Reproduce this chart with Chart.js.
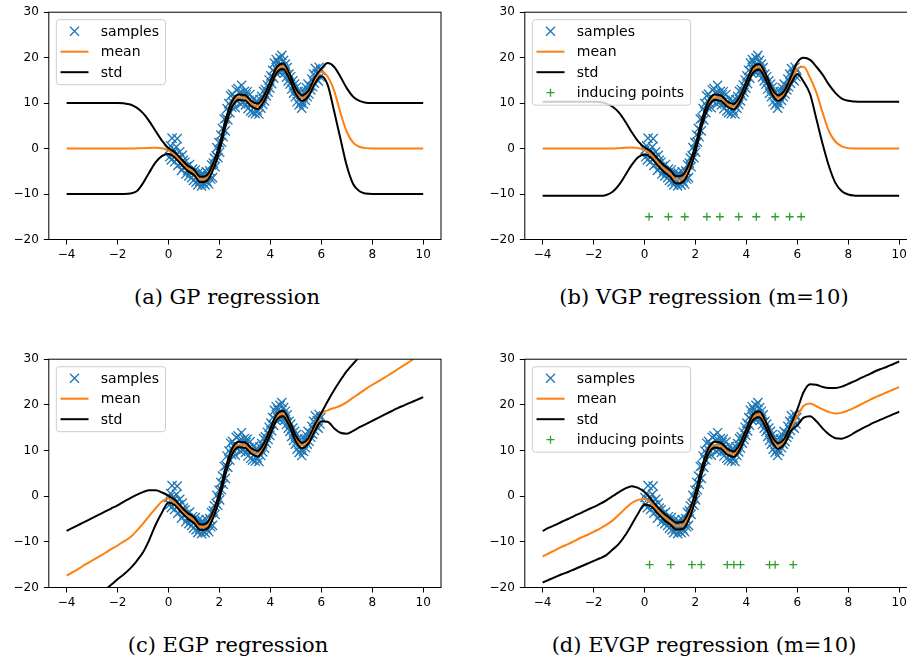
<!DOCTYPE html>
<html>
<head>
<meta charset="utf-8">
<script src="https://cdn.jsdelivr.net/npm/chart.js@4/dist/chart.umd.min.js"></script>
<style>
  body { margin: 0; width: 907px; height: 660px; overflow: hidden; background: #fff; position: relative; }
  canvas { position: absolute; }
  .cap { position: absolute; font-family: 'DejaVu Serif', serif; font-size: 21px; line-height: 21px;
         white-space: nowrap; transform: translateX(-50%); color: #000; }
</style>
</head>
<body>
<canvas id="gp"   width="460" height="260" style="left:0;top:0"></canvas>
<canvas id="vgp"  width="460" height="260" style="left:476px;top:0"></canvas>
<canvas id="egp"  width="460" height="261" style="left:0;top:347px"></canvas>
<canvas id="evgp" width="460" height="261" style="left:476px;top:347px"></canvas>
<div class="cap" style="left:227px;top:287px">(a) GP regression</div>
<div class="cap" style="left:704px;top:287px">(b) VGP regression (m=10)</div>
<div class="cap" style="left:228px;top:635px">(c) EGP regression</div>
<div class="cap" style="left:704px;top:635px">(d) EVGP regression (m=10)</div>
<script>
// ── Data ──────────────────────────────────────
const X_TICKS = [-4, -2, 0, 2, 4, 6, 8, 10];
const Y_TICKS = [-20, -10, 0, 10, 20, 30];

// prediction grid
const X_GRID = [-4, -3.75, -3.5, -3.25, -3, -2.75, -2.5, -2.25, -2, -1.75,
  -1.5, -1.25, -1, -0.75, -0.5, -0.25, 0, 0.25, 0.5, 0.75,
  1, 1.25, 1.5, 1.75, 2, 2.25, 2.5, 2.75, 3, 3.25,
  3.5, 3.75, 4, 4.25, 4.5, 4.75, 5, 5.25, 5.5, 5.75,
  6, 6.25, 6.5, 6.75, 7, 7.25, 7.5, 7.75, 8, 8.25,
  8.5, 8.75, 9, 9.25, 9.5, 9.75, 10];

// training samples
const SAMPLE_X = [
  0.02, 0.05, 0.08, 0.11, 0.14, 0.17, 0.20, 0.24, 0.27, 0.31,
  0.34, 0.37, 0.40, 0.44, 0.47, 0.51, 0.54, 0.58, 0.61, 0.65,
  0.68, 0.72, 0.76, 0.80, 0.83, 0.87, 0.91, 0.94, 0.98, 1.01,
  1.05, 1.08, 1.12, 1.15, 1.19, 1.22, 1.26, 1.30, 1.33, 1.37,
  1.40, 1.44, 1.48, 1.51, 1.55, 1.58, 1.62, 1.66, 1.69, 1.73,
  1.76, 1.80, 1.83, 1.87, 1.90, 1.94, 1.98, 2.01, 2.05, 2.08,
  2.12, 2.15, 2.19, 2.23, 2.26, 2.30, 2.33, 2.37, 2.41, 2.44,
  2.48, 2.51, 2.55, 2.59, 2.62, 2.66, 2.69, 2.73, 2.77, 2.80,
  2.84, 2.87, 2.91, 2.95, 2.98, 3.02, 3.05, 3.09, 3.12, 3.16,
  3.20, 3.23, 3.27, 3.30, 3.34, 3.38, 3.41, 3.45, 3.48, 3.52,
  3.55, 3.59, 3.63, 3.66, 3.70, 3.73, 3.77, 3.80, 3.84, 3.88,
  3.91, 3.95, 3.98, 4.02, 4.05, 4.09, 4.13, 4.16, 4.20, 4.23,
  4.27, 4.30, 4.34, 4.38, 4.41, 4.45, 4.48, 4.52, 4.55, 4.59,
  4.63, 4.66, 4.70, 4.73, 4.77, 4.80, 4.84, 4.88, 4.91, 4.95,
  4.98, 5.02, 5.05, 5.09, 5.13, 5.16, 5.20, 5.23, 5.27, 5.30,
  5.34, 5.38, 5.41, 5.45, 5.48, 5.52, 5.55, 5.59, 5.63, 5.66,
  5.70, 5.73, 5.77, 5.80, 5.84, 5.88, 5.91, 5.95, 5.98];
const SAMPLE_Y = [
  -0.3, -1.8, 0.6, -2.5, 2.3, -1.0, -0.2, -2.9, -1.6, 0.4,
  2.2, -3.7, -1.9, -0.7, -3.2, -4.8, -1.5, -2.6, -4.1, -3.0,
  -5.6, -3.9, -4.8, -6.0, -3.5, -5.2, -6.4, -4.5, -7.0, -5.6,
  -4.7, -7.4, -6.1, -8.0, -5.2, -7.2, -6.0, -8.2, -5.4, -7.6,
  -6.6, -8.0, -5.1, -7.2, -6.0, -7.8, -4.9, -6.7, -3.6, -6.4,
  -3.2, -2.1, -4.0, -1.6, 0.2, -2.0, 1.3, -0.8, 3.0, 1.4,
  4.4, 2.6, 6.5, 3.9, 6.7, 8.8, 6.3, 9.9, 7.9, 11.6,
  9.1, 12.0, 10.0, 11.3, 9.0, 12.9, 10.4, 13.2, 10.8, 12.2,
  9.8, 13.9, 11.7, 10.3, 12.6, 9.6, 11.8, 12.5, 8.8, 10.6,
  11.9, 8.3, 10.0, 7.9, 10.9, 9.2, 7.7, 10.4, 8.4, 9.9,
  7.6, 10.8, 8.9, 11.5, 9.7, 12.6, 10.5, 13.0, 11.6, 14.0,
  12.4, 15.1, 13.3, 16.0, 14.3, 17.2, 15.5, 18.8, 16.7, 19.6,
  17.4, 18.9, 16.8, 19.9, 18.0, 20.5, 17.2, 19.4, 16.6, 18.6,
  15.7, 17.8, 14.9, 16.4, 14.2, 15.8, 13.1, 14.9, 12.2, 14.2,
  11.4, 13.5, 10.3, 12.6, 9.6, 12.3, 10.1, 8.9, 11.7, 9.8,
  12.5, 10.6, 13.4, 11.4, 14.2, 12.0, 13.8, 12.9, 15.3, 13.6,
  16.4, 14.4, 17.6, 15.3, 16.5, 14.9, 17.9, 15.8, 17.2];

// (a) GP
const GP_MEAN = [0, 0, 0, 0, 0, 0, 0, 0, 0, 0,
  0, 0.05, 0.1, 0.15, 0.2, 0.05, -0.4, -1.4, -2.9, -4.3,
  -5.2, -6.8, -6.5, -4.0, 0.2, 5.8, 9.8, 11.3, 11.2, 9.9,
  9.3, 11.0, 14.2, 17.3, 18.1, 15.9, 12.6, 11.1, 12.2, 15.0,
  16.9, 15.8, 12.8, 7.9, 3.7, 1.3, 0.4, 0.1, 0, 0,
  0, 0, 0, 0, 0, 0, 0];
const GP_UPPER = [10, 10, 10, 10, 10, 10, 10, 10, 10, 9.95,
  9.7, 9.0, 7.8, 6.0, 3.8, 1.7, 0.1, -0.8, -2.3, -3.7,
  -4.6, -6.2, -5.9, -3.3, 0.9, 6.5, 10.4, 11.9, 11.8, 10.5,
  9.9, 11.6, 14.8, 17.9, 18.7, 16.5, 13.2, 11.7, 12.8, 15.7,
  17.6, 18.8, 18.0, 15.8, 13.3, 11.4, 10.5, 10.1, 10, 10,
  10, 10, 10, 10, 10, 10, 10];
const GP_LOWER = [-10, -10, -10, -10, -10, -10, -10, -10, -10, -10,
  -9.9, -9.4, -7.6, -5.2, -3.0, -1.6, -1.2, -2.0, -3.5, -4.9,
  -5.8, -7.4, -7.1, -4.7, -0.5, 5.1, 9.2, 10.7, 10.6, 9.3,
  8.7, 10.4, 13.6, 16.7, 17.5, 15.3, 12.0, 10.5, 11.6, 14.3,
  15.9, 14.0, 8.3, 2.2, -3.8, -7.8, -9.4, -9.9, -10, -10,
  -10, -10, -10, -10, -10, -10, -10];

// (b) VGP, m = 10
const VGP_MEAN = [0, 0, 0, 0, 0, 0, 0, 0, 0, 0,
  0, 0, 0.1, 0.2, 0.25, 0.1, -0.3, -1.3, -2.9, -4.4,
  -5.5, -6.9, -6.6, -4.3, 0.0, 5.6, 9.7, 11.3, 11.1, 9.8,
  9.2, 10.9, 14.1, 17.2, 18.0, 15.9, 12.6, 11.1, 12.2, 15.0,
  17.6, 18.0, 15.6, 12.3, 7.8, 3.7, 1.5, 0.5, 0.1, 0,
  0, 0, 0, 0, 0, 0, 0];
const VGP_UPPER = [10.3, 10.3, 10.3, 10.3, 10.3, 10.3, 10.3, 10.3, 10.3, 10.25,
  9.9, 9.2, 7.9, 5.9, 3.6, 1.6, 0.3, -0.6, -2.1, -3.6,
  -4.7, -6.1, -5.8, -3.4, 0.7, 6.3, 10.3, 11.9, 11.7, 10.4,
  9.8, 11.5, 14.7, 17.8, 18.6, 16.5, 13.2, 11.7, 12.8, 15.8,
  19.0, 20.0, 19.5, 18.0, 16.2, 14.0, 12.2, 11.0, 10.5, 10.35,
  10.3, 10.3, 10.3, 10.3, 10.3, 10.3, 10.3];
const VGP_LOWER = [-10.4, -10.4, -10.4, -10.4, -10.4, -10.4, -10.4, -10.4, -10.4, -10.4,
  -10.2, -9.5, -8.0, -5.8, -3.6, -1.9, -1.3, -2.0, -3.6, -5.1,
  -6.2, -7.7, -7.4, -5.0, -0.7, 4.9, 9.1, 10.7, 10.5, 9.2,
  8.6, 10.3, 13.5, 16.6, 17.4, 15.3, 12.0, 10.5, 11.6, 14.3,
  16.4, 14.7, 12.0, 6.5, 0.9, -4.0, -7.6, -9.4, -10.1, -10.35,
  -10.4, -10.4, -10.4, -10.4, -10.4, -10.4, -10.4];
const VGP_INDUCING_X = [0.18, 0.94, 1.58, 2.45, 2.96, 3.70, 4.39, 5.13, 5.70, 6.15];

// (c) EGP
const EGP_MEAN = [-17.4, -16.6, -15.8, -14.9, -14.1, -13.3, -12.5, -11.6, -10.8, -9.9,
  -9.0, -7.6, -6.0, -4.3, -2.6, -1.1, -0.5, -1.4, -2.9, -4.3,
  -5.3, -6.8, -6.5, -4.1, 0.1, 5.7, 9.8, 11.3, 11.2, 9.9,
  9.3, 11.0, 14.2, 17.3, 18.1, 15.9, 12.6, 11.1, 12.2, 15.0,
  18.0, 18.8, 19.3, 19.8, 20.6, 21.6, 22.5, 23.5, 24.4, 25.2,
  26.0, 26.9, 27.8, 28.7, 29.6, 30.6, 31.6];
const EGP_UPPER = [-7.6, -6.9, -6.2, -5.5, -4.8, -4.1, -3.4, -2.7, -2.0, -1.2,
  -0.4, 0.3, 0.9, 1.3, 1.3, 0.8, 0.1, -0.8, -2.3, -3.7,
  -4.6, -6.2, -5.9, -3.4, 0.8, 6.4, 10.4, 11.9, 11.8, 10.5,
  9.9, 11.6, 14.8, 17.9, 18.7, 16.5, 13.2, 11.7, 12.8, 15.7,
  18.2, 20.8, 23.2, 25.4, 27.4, 29.0, 30.5, 32.0, 33.3, 34.6,
  35.9, 37.2, 38.5, 39.8, 41.1, 42.4, 43.7];
const EGP_LOWER = [-27.8, -26.6, -25.4, -24.2, -23.0, -21.8, -20.6, -19.4, -18.2, -17.1,
  -15.8, -14.2, -12.3, -9.5, -6.2, -3.5, -1.4, -2.0, -3.5, -4.9,
  -5.9, -7.4, -7.2, -4.8, -0.6, 5.0, 9.2, 10.7, 10.6, 9.3,
  8.7, 10.4, 13.6, 16.7, 17.5, 15.3, 12.0, 10.5, 11.6, 14.3,
  16.4, 16.3, 14.9, 13.9, 13.7, 14.3, 15.1, 15.8, 16.5, 17.2,
  17.9, 18.6, 19.3, 19.9, 20.5, 21.1, 21.7];

// (d) EVGP, m = 10
const EVGP_MEAN = [-13.2, -12.5, -11.8, -11.1, -10.5, -9.8, -9.1, -8.5, -7.8, -7.1,
  -6.3, -5.3, -4.0, -2.7, -1.5, -0.8, -0.6, -1.5, -3.0, -4.4,
  -5.5, -6.5, -6.4, -4.2, 0.0, 5.6, 9.7, 11.2, 11.0, 9.7,
  9.2, 10.9, 14.1, 17.2, 17.9, 15.8, 12.6, 11.0, 12.1, 15.0,
  17.5, 19.8, 20.3, 19.7, 19.0, 18.4, 18.1, 18.3, 18.8, 19.4,
  20.1, 20.8, 21.5, 22.1, 22.7, 23.3, 23.9];
const EVGP_UPPER = [-7.6, -6.9, -6.3, -5.6, -5.0, -4.3, -3.7, -3.0, -2.4, -1.7,
  -0.9, 0.0, 0.9, 1.7, 2.2, 1.8, 0.9, -0.6, -2.3, -3.7,
  -4.8, -5.8, -5.6, -3.3, 0.8, 6.3, 10.3, 11.9, 11.7, 10.4,
  9.8, 11.5, 14.7, 17.8, 18.6, 16.5, 13.2, 11.6, 12.7, 15.7,
  19.0, 22.8, 24.5, 24.4, 23.9, 23.7, 23.7, 24.0, 24.6, 25.2,
  25.9, 26.5, 27.2, 27.8, 28.3, 28.9, 29.5];
const EVGP_LOWER = [-18.9, -18.3, -17.7, -17.1, -16.6, -16.0, -15.4, -14.8, -14.2, -13.6,
  -12.9, -11.7, -10.4, -8.5, -6.2, -3.8, -1.8, -2.2, -3.7, -5.1,
  -6.2, -7.3, -7.2, -5.0, -0.8, 4.9, 9.1, 10.6, 10.4, 9.1,
  8.6, 10.3, 13.5, 16.6, 17.3, 15.2, 12.0, 10.4, 11.5, 14.3,
  15.5, 17.2, 17.5, 16.4, 14.8, 13.5, 12.7, 12.6, 13.1, 13.9,
  14.7, 15.4, 16.1, 16.7, 17.3, 17.9, 18.5];
const EVGP_INDUCING_X = [0.20, 1.03, 1.86, 2.23, 3.25, 3.51, 3.77, 4.91, 5.13, 5.84];

const INDUCING_Y = -15;

const BLUE = '#1f77b4', ORANGE = '#ff7f0e', GREEN = '#2ca02c', BLACK = '#000000';

// ── Plugins ───────────────────────────────────
// full box of spines, drawn above the curves
const frame = {
  id: 'frame',
  afterDatasetsDraw(chart) {
    const { ctx, chartArea: a } = chart;
    ctx.save();
    ctx.strokeStyle = BLACK;
    ctx.lineWidth = 1;
    ctx.strokeRect(a.left, a.top, a.right - a.left, a.bottom - a.top);
    ctx.restore();
  }
};

// boxed legend in the upper-left corner
const legendBox = {
  id: 'legendBox',
  afterDraw(chart, args, opts) {
    const { ctx, chartArea: a } = chart;
    const items = opts.items;
    ctx.save();
    ctx.font = '14px "DejaVu Sans"';
    const textW = Math.max(...items.map(it => ctx.measureText(it.label).width));
    const left = a.left + 7, top = a.top + 7;
    const rowH = 20.5;
    const w = 45 + textW + 6, h = 24 + (items.length - 1) * rowH;
    ctx.beginPath();
    ctx.roundRect(left + 0.5, top + 0.5, w, h, 3);
    ctx.fillStyle = 'rgba(255,255,255,0.8)';
    ctx.fill();
    ctx.strokeStyle = '#cccccc';
    ctx.lineWidth = 1;
    ctx.stroke();

    items.forEach((it, i) => {
      const cy = top + 12 + i * rowH;
      const hx = left + 4.7, cx = hx + 14;
      ctx.strokeStyle = it.color;
      ctx.beginPath();
      if (it.kind === 'line') {
        ctx.lineWidth = 2;
        ctx.moveTo(hx, cy); ctx.lineTo(hx + 28, cy);
      } else if (it.kind === 'x') {
        ctx.lineWidth = 1.3;
        ctx.moveTo(cx - 4.5, cy - 4.5); ctx.lineTo(cx + 4.5, cy + 4.5);
        ctx.moveTo(cx - 4.5, cy + 4.5); ctx.lineTo(cx + 4.5, cy - 4.5);
      } else {
        ctx.lineWidth = 1.3;
        ctx.moveTo(cx - 4, cy); ctx.lineTo(cx + 4, cy);
        ctx.moveTo(cx, cy - 4); ctx.lineTo(cx, cy + 4);
      }
      ctx.stroke();
      ctx.fillStyle = BLACK;
      ctx.textBaseline = 'middle';
      ctx.fillText(it.label, left + 45, cy + 1);
    });
    ctx.restore();
  }
};

// ── Builders ──────────────────────────────────
const fmt = v => (v < 0 ? '\u2212' + Math.abs(v) : String(v));

function curve(ys, color, label, order) {
  return {
    label,
    data: X_GRID.map((x, i) => ({ x, y: ys[i] })),
    showLine: true,
    borderColor: color,
    borderWidth: 2,
    pointRadius: 0,
    cubicInterpolationMode: 'monotone',
    order
  };
}

function axis(min, max, ticks, afterFit, padding) {
  return {
    type: 'linear',
    min, max,
    afterBuildTicks: s => { s.ticks = ticks.map(v => ({ value: v })); },
    afterFit,
    border: { display: false },
    grid: { drawOnChartArea: false, drawTicks: true, tickLength: 5, color: BLACK, lineWidth: 1 },
    ticks: {
      autoSkip: false, maxRotation: 0, padding,
      color: BLACK, font: { family: 'DejaVu Sans', size: 12 },
      callback: fmt
    }
  };
}

function makePanel(id, mean, upper, lower, inducingX, padTop) {
  const datasets = [
    {
      label: 'samples',
      data: SAMPLE_X.map((x, i) => ({ x, y: SAMPLE_Y[i] })),
      pointStyle: 'crossRot',
      pointRadius: 6.5,
      pointBorderWidth: 1.3,
      pointBorderColor: BLUE,
      pointBackgroundColor: BLUE,
      order: 4
    },
    curve(mean, ORANGE, 'mean', 3),
    curve(upper, BLACK, 'std', 2),
    curve(lower, BLACK, 'std', 2)
  ];
  const items = [
    { label: 'samples', kind: 'x', color: BLUE },
    { label: 'mean', kind: 'line', color: ORANGE },
    { label: 'std', kind: 'line', color: BLACK }
  ];
  if (inducingX) {
    datasets.push({
      label: 'inducing points',
      data: inducingX.map(x => ({ x, y: INDUCING_Y })),
      pointStyle: 'cross',
      pointRadius: 4,
      pointBorderWidth: 1.3,
      pointBorderColor: GREEN,
      pointBackgroundColor: GREEN,
      order: 1
    });
    items.push({ label: 'inducing points', kind: 'plus', color: GREEN });
  }

  new Chart(document.getElementById(id), {
    type: 'scatter',
    data: { datasets },
    options: {
      responsive: false,
      animation: false,
      devicePixelRatio: 1,
      events: [],
      layout: { padding: { left: 0, top: padTop, right: 19, bottom: 0 } },
      scales: {
        x: axis(-4.7, 10.7, X_TICKS, s => { s.height = 20.5; }, 3),
        y: axis(-20, 30, Y_TICKS, s => { s.width = 48.8; }, 5)
      },
      plugins: {
        legend: { display: false },
        tooltip: { enabled: false },
        legendBox: { items }
      }
    },
    plugins: [frame, legendBox]
  });
}

makePanel('gp', GP_MEAN, GP_UPPER, GP_LOWER, null, 10.5);
makePanel('vgp', VGP_MEAN, VGP_UPPER, VGP_LOWER, VGP_INDUCING_X, 10.5);
makePanel('egp', EGP_MEAN, EGP_UPPER, EGP_LOWER, null, 11.5);
makePanel('evgp', EVGP_MEAN, EVGP_UPPER, EVGP_LOWER, EVGP_INDUCING_X, 11.5);
</script>
</body>
</html>
